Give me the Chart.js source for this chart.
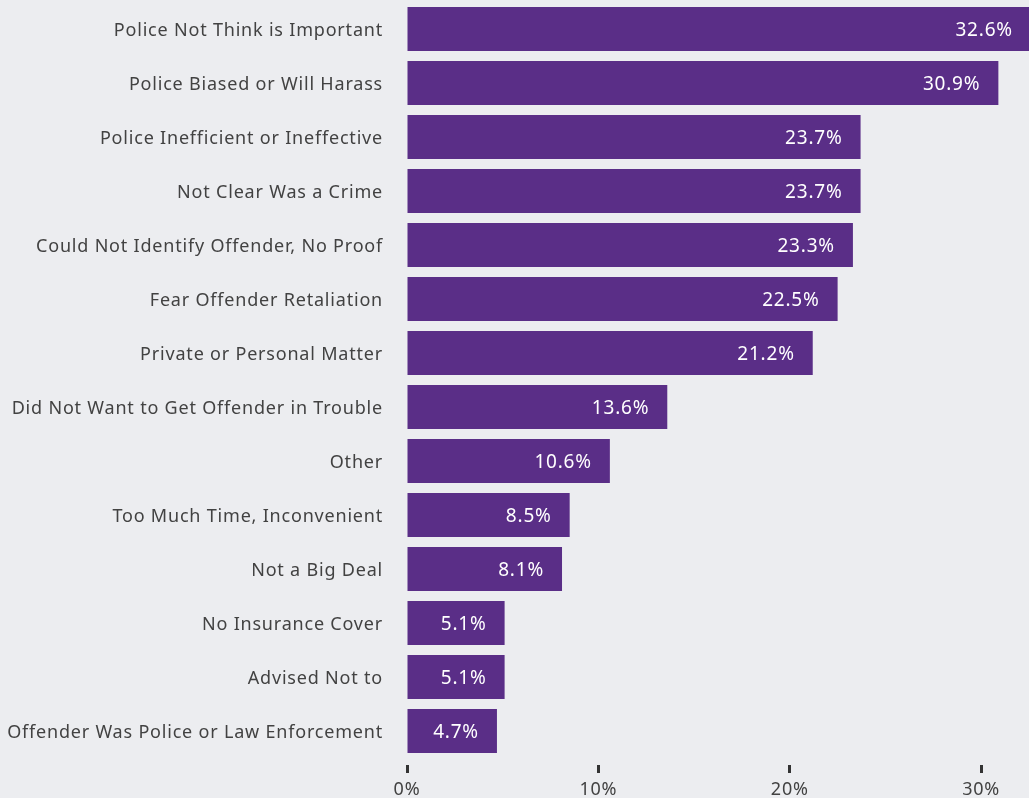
<!DOCTYPE html>
<html>
<head>
<meta charset="utf-8">
<script src="https://cdn.jsdelivr.net/npm/chart.js@4/dist/chart.umd.min.js"></script>
<style>
  html, body { margin: 0; padding: 0; background: #ecedf0; }
  #wrap { width: 1029px; height: 798px; }
</style>
</head>
<body>
<div id="wrap"><canvas id="chart" width="1029" height="798"></canvas></div>
<script>
const reasons = [
  'Police Not Think is Important',
  'Police Biased or Will Harass',
  'Police Inefficient or Ineffective',
  'Not Clear Was a Crime',
  'Could Not Identify Offender, No Proof',
  'Fear Offender Retaliation',
  'Private or Personal Matter',
  'Did Not Want to Get Offender in Trouble',
  'Other',
  'Too Much Time, Inconvenient',
  'Not a Big Deal',
  'No Insurance Cover',
  'Advised Not to',
  'Offender Was Police or Law Enforcement',
]
const shares = [32.6, 30.9, 23.7, 23.7, 23.3, 22.5, 21.2, 13.6, 10.6, 8.5, 8.1, 5.1, 5.1, 4.7]
const xTicks = [0, 10, 20, 30]

const FONT = '"Noto Sans", sans-serif'

// the original font is wider, so space the letters out a bit
const spacing = {
  id: 'spacing',
  beforeUpdate(chart) { chart.ctx.letterSpacing = '0.8px' },
  beforeDraw(chart) { chart.ctx.letterSpacing = '0.8px' },
}

// value labels drawn inside the end of each bar
const barLabels = {
  id: 'barLabels',
  afterDatasetsDraw(chart) {
    const ctx = chart.ctx
    const meta = chart.getDatasetMeta(0)
    ctx.save()
    ctx.font = '19px ' + FONT
    ctx.fillStyle = '#ffffff'
    ctx.textAlign = 'right'
    ctx.textBaseline = 'middle'
    meta.data.forEach((bar, i) => {
      ctx.fillText(shares[i].toFixed(1) + '%', bar.x - 18, bar.y + 2)
    })
    ctx.restore()
  },
}

new Chart(document.getElementById('chart'), {
  type: 'bar',
  data: {
    labels: reasons,
    datasets: [{
      data: shares,
      backgroundColor: '#5a2e87',
      categoryPercentage: 1,
      barPercentage: 0.815,
    }],
  },
  plugins: [spacing, barLabels],
  options: {
    indexAxis: 'y',
    responsive: false,
    animation: false,
    layout: { padding: { top: 2, right: 0, left: 0, bottom: 0 } },
    plugins: {
      legend: { display: false },
      tooltip: { enabled: false },
    },
    scales: {
      y: {
        grid: { display: false, drawTicks: false },
        border: { display: false },
        ticks: {
          color: '#424242',
          font: { family: FONT, size: 18 },
          padding: 24,
          labelOffset: 2,
        },
        afterFit(scale) {
          scale.width = 407
          scale.paddingTop = 0
          scale.paddingBottom = 0
        },
      },
      x: {
        min: 0,
        max: 32.5,
        afterBuildTicks(scale) { scale.ticks = xTicks.map((v) => ({ value: v })) },
        grid: {
          drawOnChartArea: false,
          drawTicks: true,
          tickLength: 15,
          tickWidth: 3,
          tickColor: '#333333',
          tickBorderDash: [0, 7, 8, 40],
        },
        border: { display: false },
        ticks: {
          color: '#424242',
          font: { family: FONT, size: 18 },
          padding: 6,
          maxRotation: 0,
          callback: (v) => v + '%',
        },
        afterFit(scale) {
          scale.height = 40
          scale.paddingLeft = 0
          scale.paddingRight = 0
        },
      },
    },
  },
})
</script>
</body>
</html>
